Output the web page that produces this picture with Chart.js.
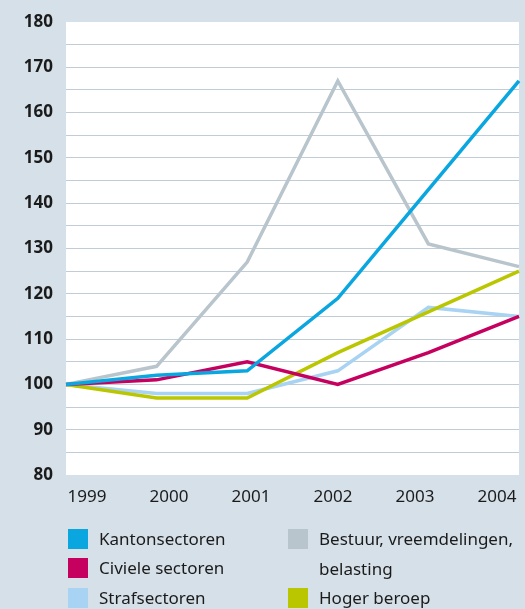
<!DOCTYPE html>
<html>
<head>
<meta charset="utf-8">
<script src="https://cdn.jsdelivr.net/npm/chart.js@4"></script>
<style>
  html, body { margin: 0; padding: 0; background: #d6e0e8; }
  #wrap { position: relative; width: 525px; height: 609px; }
  #legend { position: absolute; left: 0; top: 0; width: 525px; height: 609px; pointer-events: none;
            font-family: "Noto Sans", sans-serif; font-size: 17px; color: #1b1b1b; }
  .swatch { position: absolute; width: 20px; height: 20px; }
  .label { position: absolute; line-height: 30px; white-space: nowrap; }
</style>
</head>
<body>
<div id="wrap">
  <canvas id="chart" width="525" height="609"></canvas>
  <div id="legend"></div>
</div>
<script>
const years = ["1999", "2000", "2001", "2002", "2003", "2004"];

const kantonsectoren = [100, 102, 103, 119, 143, 167];
const civieleSectoren = [100, 101, 105, 100, 107, 115];
const strafsectoren = [100, 98, 98, 103, 117, 115];
const bestuur = [100, 104, 127, 167, 131, 126];
const hogerBeroep = [100, 97, 97, 107, 116, 125];

const series = [
  { label: "Kantonsectoren", data: kantonsectoren, color: "#0aa6e0", order: 1 },
  { label: "Civiele sectoren", data: civieleSectoren, color: "#c6005e", order: 2 },
  { label: "Strafsectoren", data: strafsectoren, color: "#a9d3f2", order: 4 },
  { label: "Bestuur, vreemdelingen,\nbelasting", data: bestuur, color: "#b9c5cc", order: 5 },
  { label: "Hoger beroep", data: hogerBeroep, color: "#bac700", order: 3 }
];

// legend spots: two columns, three rows
const legendSpots = [[68, 529], [68, 558], [68, 588], [288, 529], [288, 588]];

const plotBackground = {
  id: "plotBackground",
  beforeDraw(chart) {
    const { ctx, chartArea: a } = chart;
    ctx.save();
    ctx.fillStyle = "#ffffff";
    ctx.fillRect(a.left, a.top, a.right - a.left, a.bottom - a.top);
    ctx.restore();
  }
};

const textColor = "#1b1b1b";

new Chart(document.getElementById("chart"), {
  type: "line",
  data: {
    labels: years,
    datasets: series.map((s) => ({
      label: s.label,
      data: s.data,
      borderColor: s.color,
      backgroundColor: s.color,
      borderWidth: 3.5,
      pointRadius: 0,
      tension: 0,
      fill: false,
      order: s.order
    }))
  },
  options: {
    responsive: false,
    animation: false,
    layout: { padding: { top: 22, right: 6, left: 0, bottom: 0 } },
    plugins: { legend: { display: false }, tooltip: { enabled: false } },
    scales: {
      x: {
        type: "category",
        offset: false,
        ticks: { display: false },
        grid: { display: false, drawTicks: false },
        border: { display: false },
        afterFit: (s) => { s.height = 0; s.paddingLeft = 0; s.paddingRight = 0; }
      },
      // year labels sit on their own scale, they are not centred on the data points
      x2: {
        type: "linear",
        position: "bottom",
        min: 1998.744,
        max: 2004.268,
        afterBuildTicks: (s) => { s.ticks = years.map((y) => ({ value: Number(y) })); },
        ticks: {
          callback: (v) => String(v),
          font: { family: "Noto Sans", size: 17 },
          color: textColor,
          padding: 12,
          maxRotation: 0,
          autoSkip: false
        },
        grid: { display: false, drawTicks: false },
        border: { display: false },
        afterFit: (s) => { s.height = 134; s.paddingLeft = 0; s.paddingRight = 0; }
      },
      y: {
        min: 80,
        max: 180,
        ticks: {
          stepSize: 5,
          autoSkip: false,
          callback: (v) => (v % 10 === 0 ? v : ""),
          font: { family: "Noto Sans", size: 17, weight: "bold" },
          color: textColor,
          padding: 13
        },
        grid: {
          color: (c) => (c.tick.value === 80 || c.tick.value === 180 ? "rgba(0,0,0,0)" : "#c0ccd6"),
          lineWidth: 1,
          drawTicks: false
        },
        border: { display: false },
        afterFit: (s) => { s.width = 66; s.paddingTop = 0; s.paddingBottom = 0; }
      }
    }
  },
  plugins: [plotBackground]
});

const legend = document.getElementById("legend");
series.forEach((s, i) => {
  const [x, y] = legendSpots[i];
  const sw = document.createElement("div");
  sw.className = "swatch";
  sw.style.left = x + "px";
  sw.style.top = y + "px";
  sw.style.background = s.color;
  legend.appendChild(sw);
  const lab = document.createElement("div");
  lab.className = "label";
  lab.style.left = (x + 31) + "px";
  lab.style.top = (y - 5) + "px";
  lab.innerHTML = s.label.split("\n").join("<br>");
  legend.appendChild(lab);
});
</script>
</body>
</html>
